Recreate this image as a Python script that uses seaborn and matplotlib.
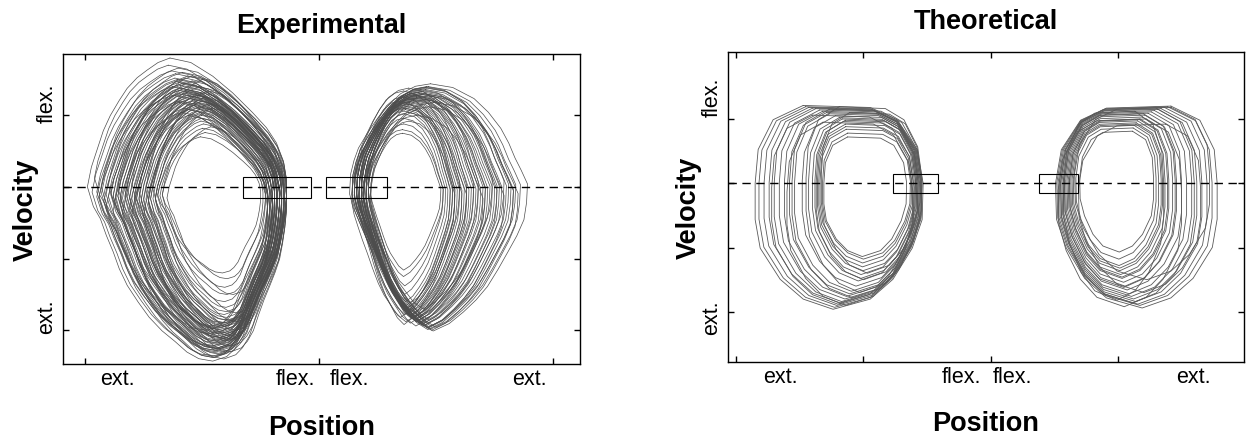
import numpy as np
import pandas as pd
import matplotlib.pyplot as plt
import seaborn as sns
from matplotlib.patches import Rectangle

sns.set_style('ticks')
plt.rcParams['font.family'] = ['Liberation Sans', 'DejaVu Sans']
plt.rcParams.update({'text.color': 'k', 'axes.labelcolor': 'k', 'xtick.color': 'k',
                     'ytick.color': 'k', 'axes.edgecolor': 'k'})

# ---- loop shapes (normalised outline read from the outermost loop of each cluster) ----
exp_left_u = [0.415, 0.52, 0.63, 0.73, 0.83, 0.90, 0.95, 0.985, 1.0, 1.0, 0.99, 0.975, 0.955, 0.925,
              0.89, 0.85, 0.815, 0.78, 0.74, 0.70, 0.63, 0.56, 0.50, 0.44, 0.375, 0.31, 0.255, 0.20,
              0.16, 0.13, 0.095, 0.065, 0.03, 0.0, 0.02, 0.05, 0.08, 0.115, 0.16, 0.20, 0.25, 0.30, 0.355]
exp_left_v = [1.0, 0.985, 0.94, 0.885, 0.82, 0.77, 0.72, 0.66, 0.60, 0.535, 0.47, 0.41, 0.35, 0.30,
              0.25, 0.195, 0.14, 0.08, 0.04, 0.015, 0.0, 0.008, 0.03, 0.065, 0.10, 0.145, 0.195, 0.25,
              0.305, 0.36, 0.415, 0.47, 0.51, 0.575, 0.64, 0.70, 0.76, 0.81, 0.86, 0.90, 0.935, 0.96, 0.985]

exp_right_u = [0.455, 0.58, 0.70, 0.78, 0.85, 0.895, 0.93, 0.965, 1.0, 0.995, 0.98, 0.94, 0.89, 0.835,
               0.775, 0.71, 0.64, 0.56, 0.47, 0.40, 0.34, 0.28, 0.23, 0.18, 0.135, 0.09, 0.05, 0.02,
               0.0, 0.006, 0.025, 0.05, 0.10, 0.157, 0.22, 0.287, 0.37]
exp_right_v = [1.0, 0.985, 0.94, 0.885, 0.82, 0.76, 0.70, 0.65, 0.595, 0.52, 0.45, 0.385, 0.32, 0.25,
               0.18, 0.125, 0.077, 0.03, 0.0, 0.03, 0.077, 0.125, 0.18, 0.25, 0.32, 0.385, 0.45, 0.50,
               0.555, 0.635, 0.69, 0.74, 0.80, 0.86, 0.915, 0.96, 0.99]

theo_u = [0.286, 0.685, 0.845, 0.964, 1.0, 0.994, 0.935, 0.82, 0.685, 0.464, 0.286, 0.149,
          0.03, 0.0, 0.0, 0.018, 0.107]
theo_v = [1.0, 0.99, 0.93, 0.784, 0.618, 0.44, 0.30, 0.147, 0.05, 0.0, 0.05, 0.147,
          0.30, 0.44, 0.618, 0.784, 0.93]

# ---- per-cycle extents: left / right position, top / bottom velocity ----
exp_left_x0 = [1, 3, 5, 6, 7, 8, 9, 10, 11, 12, 12, 13, 14, 15, 15, 16, 17, 17, 18, 19, 19, 20,
               21, 21, 22, 23, 23, 24, 25, 25, 26, 27, 27, 28, 29, 30, 30, 31, 32, 33, 31, 4, 14, 20,
               8, 18, 12, 22, 6, 26, 16, 10, 24, 14, 28, 9, 20, 30, 13, 19, 5, 23, 27, 11, 17, 25,
               7, 21, 15, 33, 29, 35]
exp_left_x1 = [86, 85, 86, 84, 85, 83, 84, 85, 83, 84, 82, 83, 84, 82, 83, 81, 84, 82, 83, 81, 82, 80,
               83, 81, 82, 80, 81, 79, 82, 80, 81, 79, 80, 78, 79, 78, 77, 78, 76, 77, 75, 80, 86, 78,
               86, 85, 80, 86, 82, 84, 79, 86, 85, 81, 83, 84, 82, 85, 85, 80, 83, 84, 82, 82, 86, 79,
               86, 84, 78, 84, 86, 80]
exp_left_top = [180, 162, 158, 152, 150, 148, 146, 144, 142, 140, 138, 137, 135, 134, 132, 131, 130,
                128, 127, 126, 124, 123, 122, 120, 118, 117, 115, 114, 112, 110, 108, 106, 104, 102,
                100, 96, 92, 88, 82, 76, 70, 170, 155, 100,
                135, 155, 118, 140, 128, 150, 110, 160, 132, 145, 125, 120, 148, 116, 152, 108, 140,
                128, 120, 130, 142, 98, 166, 112, 104, 110, 134, 84]
exp_left_bot = [-243, -236, -230, -238, -225, -228, -222, -226, -218, -220, -215, -224, -212, -216,
                -210, -214, -206, -210, -204, -208, -200, -205, -198, -202, -195, -200, -192, -196,
                -190, -194, -186, -190, -182, -178, -174, -168, -160, -150, -140, -128, -120, -200,
                -240, -225,
                -232, -215, -238, -230, -205, -212, -236, -210, -222, -198, -208, -228, -190, -200,
                -234, -218, -222, -186, -214, -196, -204, -230, -226, -212, -194, -176, -188, -150]

exp_right_x0 = [113, 114, 114, 115, 115, 115, 116, 116, 116, 117, 117, 117, 117, 118, 118, 118, 118,
                119, 119, 119, 119, 120, 120, 120, 121, 121, 122, 121, 122, 116, 117, 118, 119,
                114, 118, 115, 120, 116, 119, 117, 121, 114, 118, 116, 120, 115, 119, 117, 121, 118,
                116, 120, 122]
exp_right_x1 = [189, 186, 184, 182, 180, 178, 177, 175, 174, 172, 171, 169, 168, 167, 165, 164, 163,
                162, 161, 160, 159, 158, 157, 156, 155, 154, 153, 153, 152, 181, 176, 170, 166,
                183, 179, 171, 176, 160, 185, 158, 168, 163, 174, 156, 179, 166, 161, 183, 157, 170,
                173, 163, 158]
exp_right_top = [144, 140, 138, 136, 134, 133, 131, 130, 128, 127, 126, 124, 123, 122, 120, 119, 118,
                 116, 115, 113, 112, 110, 108, 106, 102, 96, 88, 80, 75, 139, 129, 125, 121,
                 130, 140, 128, 122, 134, 118, 126, 132, 110, 136, 120, 112, 138, 104, 127, 116, 100,
                 124, 130, 92]
exp_right_bot = [-201, -198, -195, -197, -192, -194, -190, -192, -188, -190, -186, -188, -184, -186,
                 -182, -184, -180, -178, -180, -176, -174, -172, -170, -166, -160, -150, -138, -125,
                 -116, -196, -185, -183, -181,
                 -199, -185, -194, -190, -178, -196, -192, -176, -188, -170, -182, -194, -190, -176,
                 -200, -168, -186, -180, -184, -162]

theo_left_x0 = [15, 18, 22, 26, 30, 34, 38, 42, 46, 52, 57, 60, 62, 64, 65, 66, 68, 69, 63, 44,
                28, 55, 40, 67]
theo_left_x1 = [147, 146, 145, 146, 144, 145, 143, 144, 142, 143, 141, 142, 140, 141, 139, 138, 137,
                134, 143, 146, 140, 146, 139, 145]
theo_left_top = [121, 119, 118, 117, 116, 114, 112, 110, 108, 105, 102, 100, 96, 92, 88, 84, 78, 72,
                 98, 115, 106, 119, 95, 110]
theo_left_bot = [-196, -193, -190, -186, -184, -180, -176, -172, -168, -160, -152, -148, -142, -136,
                 -130, -124, -118, -114, -150, -178, -188, -170, -190, -140]

theo_right_x0 = [251, 252, 253, 254, 255, 256, 257, 258, 259, 260, 261, 262, 263, 265, 267, 270,
                 255, 258, 262, 264, 253, 266, 257, 269]
theo_right_x1 = [378, 374, 370, 366, 362, 358, 354, 350, 346, 343, 340, 337, 335, 332, 330, 328,
                 360, 345, 339, 334, 350, 372, 336, 365]
theo_right_top = [120, 119, 118, 116, 115, 113, 111, 109, 106, 103, 100, 97, 94, 90, 86, 81, 117,
                  108, 99, 92, 100, 118, 112, 92]
theo_right_bot = [-194, -190, -188, -184, -180, -176, -172, -166, -160, -154, -148, -142, -136, -128,
                  -118, -107, -186, -162, -146, -132, -192, -150, -182, -170]

# boundary boxes (position span), all span velocity -15..14
exp_boxes = [(67.5, 96.6), (103, 129)]
theo_boxes = [(123, 159), (238, 269)]
box_vel = (-15, 14)

# axis label positions
exp_label_pos = [14, 90, 113, 190]
theo_label_pos = [35, 177, 217, 359]
pos_labels = ['ext.', 'flex.', 'flex.', 'ext.']
exp_vel_label_pos = [118, -180]
theo_vel_label_pos = [135, -207]
vel_labels = ['flex.', 'ext.']


def build_loops(u, v, x0, x1, top, bot):
    u = np.append(u, u[0])
    v = np.append(v, v[0])
    frames = []
    for i in range(len(x0)):
        frames.append(pd.DataFrame({
            'pos': x0[i] + u * (x1[i] - x0[i]),
            'vel': bot[i] + v * (top[i] - bot[i]),
            'loop': i,
        }))
    return pd.concat(frames, ignore_index=True)


def draw_loops(ax, df, color, lw):
    sns.lineplot(data=df, x='pos', y='vel', units='loop', estimator=None, sort=False,
                 color=color, lw=lw, ax=ax, legend=False)


def style_axes(ax, xticks, label_pos, vel_label_pos, xlim, ylim):
    ax.set_xlim(*xlim)
    ax.set_ylim(*ylim)
    ax.set_xticks(xticks, labels=[''] * len(xticks))
    ax.set_yticks([100, 0, -100, -200], labels=[''] * 4)
    ax.set_xticks(label_pos, labels=pos_labels, minor=True)
    ax.set_yticks(vel_label_pos, labels=vel_labels, minor=True)
    for t in ax.get_yticklabels(minor=True):
        t.set_rotation(90)
        t.set_va('center')
    ax.tick_params(which='major', direction='in', top=True, right=True, length=4, width=1)
    ax.tick_params(which='minor', length=0, labelsize=15.5, colors='k')
    ax.tick_params(axis='x', which='minor', pad=3)
    ax.tick_params(axis='y', which='minor', pad=4)
    for s in ax.spines.values():
        s.set_linewidth(1.0)
        s.set_color('k')
    ax.axhline(0, color='k', lw=1.0, ls=(0, (6, 4)), zorder=4)
    ax.set_xlabel('Position', fontsize=19.5, fontweight='bold')
    ax.set_ylabel('Velocity', fontsize=19.5, fontweight='bold')


fig = plt.figure(figsize=(12.46, 4.39), dpi=100)
ax1 = fig.add_axes([0.0506, 0.1686, 0.415, 0.706])
ax2 = fig.add_axes([0.5843, 0.1731, 0.414, 0.706])

# Experimental
draw_loops(ax1, build_loops(exp_left_u, exp_left_v, exp_left_x0, exp_left_x1,
                            exp_left_top, exp_left_bot), '0.3', 0.5)
draw_loops(ax1, build_loops(exp_right_u, exp_right_v, exp_right_x0, exp_right_x1,
                            exp_right_top, exp_right_bot), '0.3', 0.5)
for a, b in exp_boxes:
    ax1.add_patch(Rectangle((a, box_vel[0]), b - a, box_vel[1] - box_vel[0],
                            fill=False, ec='k', lw=0.8, zorder=3))
style_axes(ax1, [0, 100, 200], exp_label_pos, exp_vel_label_pos, (-9.4, 211.5), (-247, 185.5))
ax1.set_title('Experimental', fontsize=19.5, fontweight='bold', pad=16)
ax1.xaxis.set_label_coords(0.5, -0.16)
ax1.yaxis.set_label_coords(-0.046, 0.5)

# Theoretical
draw_loops(ax2, build_loops(theo_u, theo_v, theo_left_x0, theo_left_x1,
                            theo_left_top, theo_left_bot), '0.35', 0.6)
draw_loops(ax2, build_loops(1 - np.array(theo_u), theo_v, theo_right_x0, theo_right_x1,
                            theo_right_top, theo_right_bot), '0.35', 0.6)
for a, b in theo_boxes:
    ax2.add_patch(Rectangle((a, box_vel[0]), b - a, box_vel[1] - box_vel[0],
                            fill=False, ec='k', lw=0.8, zorder=3))
style_axes(ax2, [0, 100, 200, 300], theo_label_pos, theo_vel_label_pos, (-6.3, 399), (-278, 204))
ax2.set_title('Theoretical', fontsize=19.5, fontweight='bold', pad=17)
ax2.xaxis.set_label_coords(0.5, -0.155)
ax2.yaxis.set_label_coords(-0.05, 0.5)

fig.savefig('out.png', dpi=100)
